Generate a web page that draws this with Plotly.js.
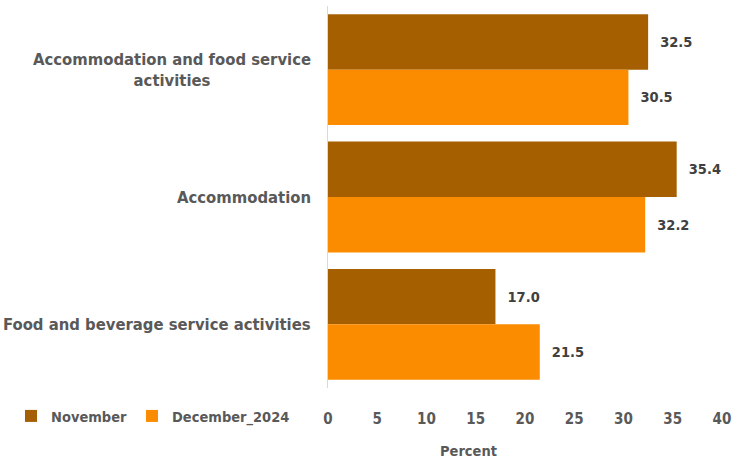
<!DOCTYPE html>
<html>
<head>
<meta charset="utf-8">
<script src="https://cdn.plot.ly/plotly-3.0.1.min.js"></script>
<style>html,body{margin:0;padding:0;background:#fff;}#chart{width:734px;height:459px;}</style>
</head>
<body>
<div id="chart"></div>
<script>
const categories = ["Accommodation and food service<br>activities", "Accommodation", "Food and beverage service activities"];
const november = [32.5, 35.4, 17.0];
const december2024 = [30.5, 32.2, 21.5];
const xTicks = [0, 5, 10, 15, 20, 25, 30, 35, 40];

const FONT = "DejaVu Sans Condensed, DejaVu Sans, sans-serif";
const GREY = '#595959';

function series(name, vals, color) {
  return {
    type: 'bar', orientation: 'h', name: name,
    x: vals, y: categories,
    marker: {color: color},
    text: vals.map(v => v.toFixed(1)),
    texttemplate: '\u00a0\u00a0%{text}',
    textposition: 'outside',
    cliponaxis: false,
    textfont: {family: FONT, size: 14.5, color: '#404040', weight: 'bold'},
    hoverinfo: 'none'
  };
}

const data = [
  series('November', november, '#A65F00'),
  series('December_2024', december2024, '#FB8C00')
];

const plotLeft = 328, plotRight = 722, plotTop = 6, plotBottom = 388;
const catAnnotations = categories.map(c => ({
  text: c, xref: 'paper', yref: 'y', x: -15 / (plotRight - plotLeft), y: c,
  xanchor: 'right', yanchor: 'middle', align: 'center', showarrow: false,
  font: {family: FONT, size: 16.5, color: GREY, weight: 'bold'}
}));

const layout = {
  width: 734, height: 459,
  margin: {l: plotLeft, r: 734 - plotRight, t: plotTop, b: 459 - plotBottom},
  paper_bgcolor: '#fff', plot_bgcolor: '#fff',
  barmode: 'group', bargap: 0.13, bargroupgap: 0,
  font: {family: FONT, color: GREY, size: 15, weight: 'bold'},
  showlegend: true,
  legend: {
    orientation: 'h', xref: 'container', yref: 'container',
    x: 0.015, y: 1 - 416 / 459, xanchor: 'left', yanchor: 'middle',
    font: {family: FONT, size: 14.5, color: GREY, weight: 'bold'},
    itemwidth: 30, traceorder: 'normal', bgcolor: 'rgba(0,0,0,0)'
  },
  xaxis: {
    range: [0, 40], tickvals: xTicks, ticktext: xTicks.map(String),
    showgrid: false, zeroline: false, showline: false, ticks: '',
    ticklabelstandoff: 20,
    tickfont: {family: FONT, size: 15, color: GREY, weight: 'bold'},
    fixedrange: true
  },
  yaxis: {
    autorange: 'reversed', showgrid: false, zeroline: false,
    showline: true, linecolor: '#D9D9D9', linewidth: 1,
    ticks: '', showticklabels: false,
    fixedrange: true
  },
  annotations: catAnnotations.concat([{
    text: 'Percent', xref: 'paper', yref: 'paper',
    x: (468 - plotLeft) / (plotRight - plotLeft),
    y: (plotBottom - 451) / (plotBottom - plotTop),
    xanchor: 'center', yanchor: 'middle',
    showarrow: false,
    font: {family: FONT, size: 14.5, color: GREY, weight: 'bold'}
  }])
};

Plotly.newPlot('chart', data, layout, {displayModeBar: false, staticPlot: true});
</script>
</body>
</html>
